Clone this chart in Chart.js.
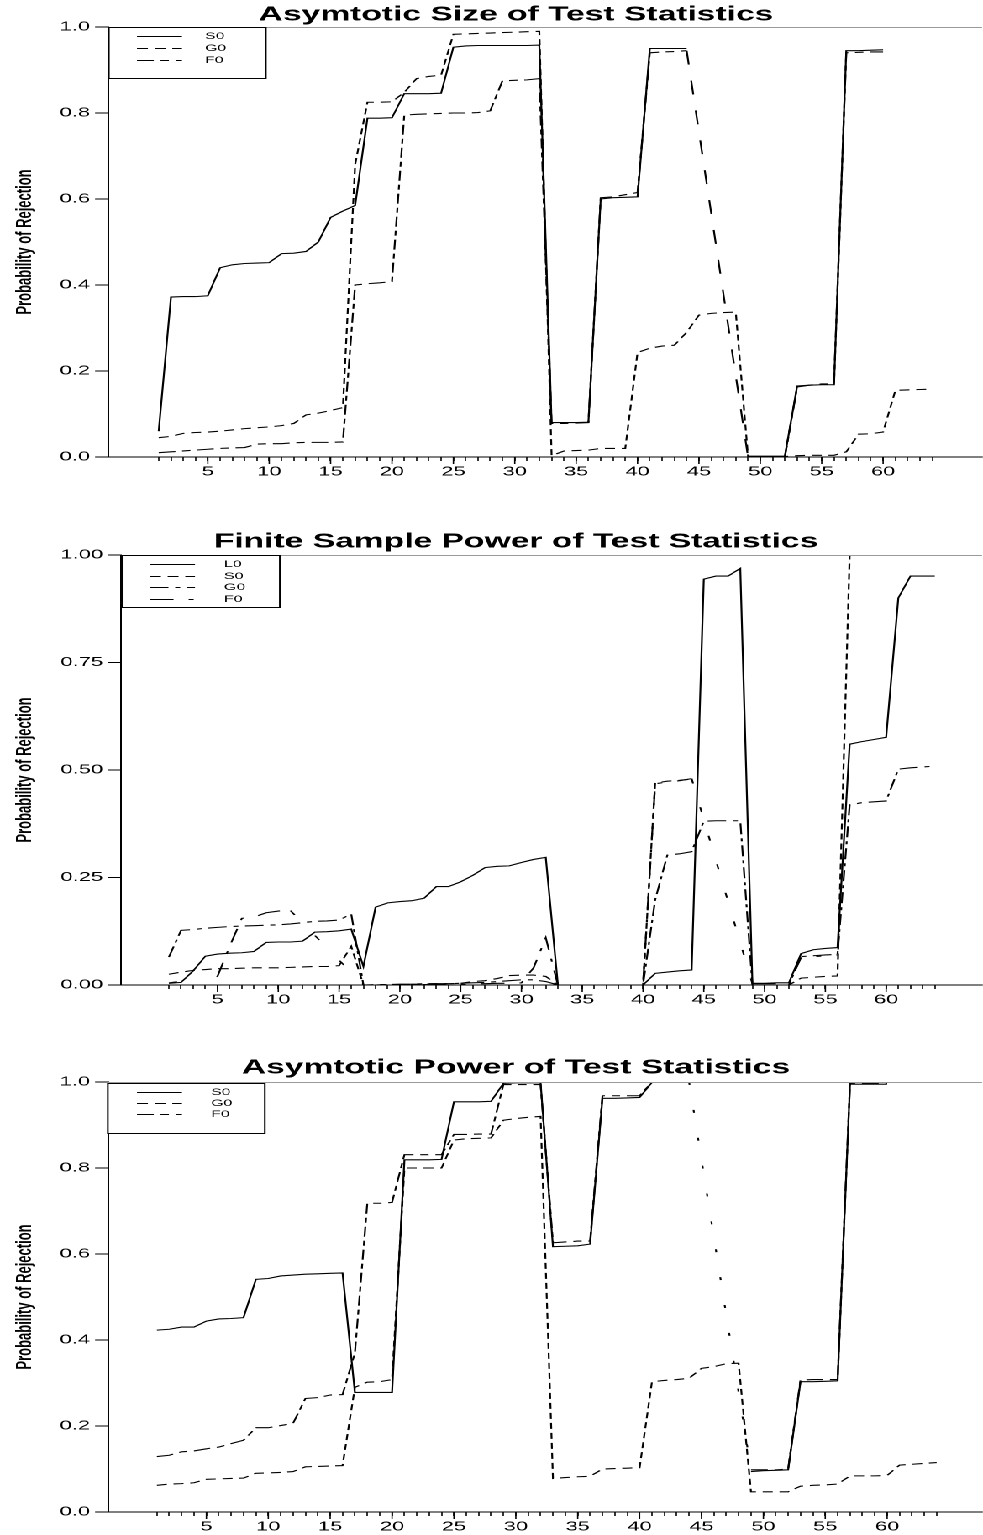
<!DOCTYPE html>
<html><head><meta charset="utf-8">
<script src="https://cdn.jsdelivr.net/npm/chart.js@4.4.1/dist/chart.umd.min.js"></script>
<style>
html,body{margin:0;padding:0;background:#fff;overflow:hidden;}
#wrap{width:585px;height:1535px;transform:scaleX(1.680342);transform-origin:0 0;}
.panel{position:relative;width:585px;}
</style></head><body>
<div id="wrap">
<div class="panel" style="height:528px"><canvas id="c1"></canvas></div>
<div class="panel" style="height:527px"><canvas id="c2"></canvas></div>
<div class="panel" style="height:480px"><canvas id="c3"></canvas></div>
</div>
<script>
const xCategories = [1,2,3,4,5,6,7,8,9,10,11,12,13,14,15,16,17,18,19,20,21,22,23,24,25,26,27,28,29,30,31,32,
  33,34,35,36,37,38,39,40,41,42,43,44,45,46,47,48,49,50,51,52,53,54,55,56,57,58,59,60,61,62,63,64];
const xTickLabels = [5,10,15,20,25,30,35,40,45,50,55,60];
const yTicksTenths = [0,0.2,0.4,0.6,0.8,1.0];
const yTicksQuarters = [0,0.25,0.5,0.75,1.0];
const titles = ["Asymtotic Size of Test Statistics","Finite Sample Power of Test Statistics","Asymtotic Power of Test Statistics"];
const yAxisTitle = "Probability of Rejection";

// Panel 1: Asymtotic Size
const sizeS0 = [0.06,0.372,0.373,0.373,0.375,0.44,0.447,0.45,0.451,0.452,
 0.473,0.474,0.478,0.5,0.557,0.572,0.585,0.788,0.788,0.789,
 0.845,0.845,0.845,0.846,0.953,0.956,0.957,0.957,0.957,0.957,
 0.957,0.958,0.08,0.08,0.08,0.081,0.6,0.603,0.604,0.605,
 0.95,0.95,0.95,0.95,null,null,null,null,0.002,0.002,
 0.002,0.002,0.165,0.167,0.168,0.168,0.945,0.945,0.946,0.947,
 null,null,null,null];
const sizeG0 = [0.045,0.048,0.055,0.057,0.058,0.06,0.063,0.066,0.068,0.07,
 0.073,0.078,0.098,0.102,0.108,0.115,0.68,0.825,0.825,0.826,
 0.848,0.88,0.885,0.888,0.983,0.984,0.985,0.986,0.987,0.988,
 0.989,0.99,0.003,0.014,0.015,0.016,0.02,0.02,0.02,0.243,
 0.253,0.258,0.26,0.29,0.33,0.334,0.336,0.337,0.001,0.001,
 0.001,0.001,0.003,0.004,0.004,0.004,0.012,0.053,0.054,0.058,
 0.155,0.156,0.157,0.158];
const sizeF0 = [0.01,0.012,0.014,0.016,0.018,0.02,0.021,0.022,0.03,0.031,
 0.031,0.033,0.034,0.034,0.034,0.035,0.4,0.403,0.405,0.408,
 0.795,0.797,0.798,0.799,0.8,0.8,0.801,0.805,0.875,0.876,
 0.877,0.88,0.078,0.078,0.079,0.08,0.603,0.605,0.61,0.615,
 0.94,0.942,0.943,0.945,null,null,null,null,0.0,0.0,
 0.0,0.0,0.163,0.167,0.17,0.17,0.94,0.941,0.942,0.942,
 null,null,null,null];

// Panel 2: Finite Sample Power
const finL0 = [0.004,0.006,0.033,0.067,0.072,0.074,0.075,0.078,0.099,0.1,
 0.1,0.102,0.123,0.124,0.126,0.13,0.043,0.181,0.191,0.194,
 0.196,0.202,0.229,0.229,0.24,0.255,0.273,0.276,0.277,0.285,
 0.292,0.297,0.0,0.0,0.0,0.0,0.0,0.0,0.0,0.0,
 0.027,0.03,0.033,0.035,0.944,0.951,0.951,0.969,0.004,0.004,
 0.005,0.005,0.073,0.082,0.085,0.087,0.56,0.566,0.571,0.576,
 0.9,0.951,0.951,0.951];
const finS0 = [0.025,0.03,0.034,0.036,0.038,0.038,0.039,0.04,0.04,0.04,
 0.041,0.042,0.043,0.043,0.045,0.09,0.0,0.0,0.001,0.001,
 0.002,0.002,0.003,0.003,0.004,0.008,0.01,0.015,0.022,0.023,
 0.023,0.02,0.0,0.0,0.0,0.0,0.0,0.0,0.0,0.0,
 0.47,0.474,0.476,0.479,null,null,null,null,0.0,0.0,
 0.0,0.0,0.016,0.018,0.02,0.021,1.0,null,null,null,
 null,null,null,null];
const finG0 = [0.065,0.127,0.129,0.132,0.134,0.136,0.137,0.138,0.139,0.14,
 0.142,0.145,0.148,0.149,0.151,0.165,0.0,0.001,0.001,0.002,
 0.002,0.003,0.003,0.003,0.004,0.005,0.006,0.008,0.01,0.012,
 0.012,0.008,0.0,0.0,0.0,0.0,0.0,0.0,0.0,0.0,
 0.198,0.302,0.305,0.31,0.381,0.382,0.382,0.382,0.0,0.0,
 0.0,0.0,0.066,0.068,0.07,0.071,0.419,0.424,0.426,0.428,
 0.502,0.505,0.507,0.509];
const finF0 = [0.005,null,null,null,0.02,0.09,0.155,0.158,0.168,0.172,
 0.173,null,null,null,null,null,0.0,0.0,0.0,0.0,
 0.001,0.001,0.001,0.002,0.002,0.003,0.003,0.004,0.004,0.005,
 0.04,0.11,0.0,0.0,0.0,0.0,0.0,0.0,0.0,0.0,
 0.468,0.472,0.475,0.48,null,null,null,null,0.003,0.003,
 0.003,0.003,0.064,0.066,0.068,0.07,null,null,null,null,
 null,null,null,null];

// Panel 3: Asymtotic Power
const powS0 = [0.423,0.425,0.43,0.43,0.444,0.449,0.45,0.452,0.541,0.543,
 0.549,0.551,0.553,0.554,0.555,0.556,0.278,0.278,0.278,0.278,
 0.819,0.819,0.819,0.82,0.954,0.954,0.954,0.955,0.997,0.998,
 0.998,0.998,0.617,0.618,0.619,0.623,0.962,0.962,0.963,0.964,
 0.999,0.999,0.999,0.999,null,null,null,null,0.094,0.096,
 0.097,0.098,0.303,0.303,0.304,0.305,0.995,0.995,0.995,0.995,
 null,null,null,null];
const powG0 = [0.062,0.065,0.066,0.068,0.076,0.077,0.078,0.079,0.09,0.091,
 0.092,0.094,0.105,0.106,0.107,0.108,0.29,0.302,0.303,0.308,
 0.8,0.8,0.8,0.8,0.865,0.868,0.869,0.87,0.911,0.915,
 0.918,0.92,0.078,0.08,0.082,0.083,0.1,0.101,0.102,0.103,
 0.303,0.306,0.308,0.311,0.334,0.338,0.345,0.346,0.047,0.047,
 0.047,0.047,0.06,0.062,0.063,0.065,0.084,0.084,0.084,0.085,
 0.109,0.111,0.113,0.115];
const powF0 = [0.129,0.132,0.14,0.142,0.147,0.151,0.159,0.167,0.196,0.196,
 0.201,0.206,0.264,0.266,0.272,0.273,0.37,0.718,0.718,0.72,
 0.831,0.831,0.831,0.831,0.878,0.878,0.879,0.879,0.994,0.994,
 0.994,0.994,0.626,0.628,0.63,0.63,0.968,0.968,0.968,0.968,
 1.0,1.0,1.0,1.0,null,null,null,null,0.098,0.098,
 0.098,0.1,0.307,0.308,0.308,0.308,0.997,0.997,0.997,0.997,
 null,null,null,null];

const S = 983/585;
const FONT = '"Liberation Sans", Arial, Helvetica, sans-serif';

const decor = {
  id: 'decor',
  afterDraw(chart, args, o) {
    const {ctx, chartArea: ca, scales} = chart;
    const xs = scales.x;
    ctx.save();
    ctx.strokeStyle = '#9a9a9a'; ctx.lineWidth = 1; ctx.setLineDash([]);
    ctx.beginPath(); ctx.moveTo(ca.left, ca.top + 0.5); ctx.lineTo(ca.right, ca.top + 0.5); ctx.stroke();
    ctx.strokeStyle = '#000'; ctx.lineWidth = 0.8;
    xTickLabels.forEach(v => {
      const px = xs.getPixelForValue(v);
      ctx.beginPath(); ctx.moveTo(px, ca.bottom); ctx.lineTo(px, ca.bottom + 7); ctx.stroke();
    });
    ctx.fillStyle = '#000';
    ctx.font = 'bold 20px ' + FONT;
    ctx.textAlign = 'center'; ctx.textBaseline = 'middle';
    ctx.fillText(o.title, o.titleX / S, o.titleY);
    const L = o.legend;
    ctx.fillStyle = '#fff';
    ctx.fillRect(L.x / S, L.y, (L.x2b - L.x) / S, L.h);
    ctx.strokeStyle = '#000'; ctx.lineWidth = 1;
    ctx.strokeRect(L.x / S + 0.5, L.y + 0.5, (L.x2b - L.x) / S, L.h);
    ctx.font = '9.5px ' + FONT;
    ctx.textAlign = 'left'; ctx.textBaseline = 'middle';
    chart.data.datasets.forEach((ds, i) => {
      const y = L.rows[i] + 0.5;
      ctx.strokeStyle = '#000'; ctx.lineWidth = 1;
      ctx.setLineDash(ds.legendDash || []);
      ctx.beginPath(); ctx.moveTo(L.lx1 / S, y); ctx.lineTo(L.lx2 / S, y); ctx.stroke();
      ctx.setLineDash([]);
      ctx.fillStyle = '#000';
      ctx.fillText(ds.label, L.tx / S, y);
    });
    ctx.restore();
  }
};

function build(id, p) {
  const datasets = p.series.map(s => ({
    label: s.label,
    data: xCategories.map((x, i) => ({x: x, y: s.values[i]})),
    borderColor: '#000', borderWidth: 1.1, borderDash: s.dash, legendDash: s.legendDash,
    pointRadius: 0, pointHoverRadius: 0, tension: 0, fill: false,
    spanGaps: !!s.span,
    segment: s.span ? { borderDash: ctx => (ctx.p0.skip || ctx.p1.skip) ? s.span : undefined } : {}
  }));
  return new Chart(document.getElementById(id), {
    type: 'line',
    data: { datasets },
    plugins: [decor],
    options: {
      responsive: true, maintainAspectRatio: false, animation: false, devicePixelRatio: 2,
      layout: { padding: { top: 27, left: 0, right: 0, bottom: 0 } },
      events: [],
      plugins: {
        legend: { display: false }, tooltip: { enabled: false }, title: { display: false },
        decor: { title: p.title, titleX: 516, titleY: p.titleY, legend: p.legend }
      },
      scales: {
        x: {
          type: 'linear', min: p.xmin, max: p.xmax,
          afterBuildTicks: sc => { sc.ticks = xCategories.map(v => ({value: v})); },
          afterFit: sc => { sc.height = p.height - 457; },
          ticks: { autoSkip: false, maxRotation: 0, minRotation: 0, padding: 3, color: '#000',
                   font: { family: FONT, size: 13 },
                   callback: v => xTickLabels.includes(v) ? String(v) : '' },
          grid: { drawOnChartArea: false, drawTicks: true, tickLength: 4, color: '#000', lineWidth: 0.8 },
          border: { display: true, color: '#000', width: 1 }
        },
        y: {
          type: 'linear', min: 0, max: 1,
          afterBuildTicks: sc => { sc.ticks = p.yTicks.map(v => ({value: v})); },
          afterFit: sc => { sc.width = p.axisX / S; },
          ticks: { padding: 3, color: '#000', font: { family: FONT, size: 13 },
                   callback: v => Number(v).toFixed(p.dec) },
          grid: { drawOnChartArea: false, drawTicks: true, tickLength: 7.7, color: '#000', lineWidth: 1 },
          border: { display: true, color: '#000', width: 1 },
          title: { display: true, text: yAxisTitle, color: '#000',
                   font: { family: FONT, size: 13, weight: 'bold' }, padding: { top: 7, bottom: 0 } }
        }
      }
    }
  });
}

build('c1', {
  title: titles[0], titleY: 15, height: 528, axisX: 108, xmin: -3.13, xmax: 68.06,
  yTicks: yTicksTenths, dec: 1,
  legend: { x: 108, x2b: 265, y: 27, h: 51, lx1: 137, lx2: 182, tx: 205, rows: [36, 48, 60] },
  series: [
    { label: 'S0', values: sizeS0, dash: [], legendDash: [] },
    { label: 'G0', values: sizeG0, dash: [6, 4], legendDash: [6.5, 4] },
    { label: 'F0', values: sizeF0, dash: [10, 4, 5, 4], legendDash: [10, 4, 5, 4], span: [14, 16] }
  ]
});
build('c2', {
  title: titles[1], titleY: 14, height: 527, axisX: 121, xmin: -2.94, xmax: 67.89,
  yTicks: yTicksQuarters, dec: 2,
  legend: { x: 121, x2b: 279, y: 27, h: 52, lx1: 150, lx2: 195, tx: 224, rows: [36, 48, 59, 71] },
  series: [
    { label: 'L0', values: finL0, dash: [], legendDash: [] },
    { label: 'S0', values: finS0, dash: [6, 4], legendDash: [6.5, 4] },
    { label: 'G0', values: finG0, dash: [11, 4, 3, 4], legendDash: [11, 4, 3, 4] },
    { label: 'F0', values: finF0, dash: [14, 9, 3, 9], legendDash: [14, 9, 3, 9], span: [5, 24] }
  ]
});
build('c3', {
  title: titles[2], titleY: 13, height: 480, axisX: 108, xmin: -2.95, xmax: 67.67,
  yTicks: yTicksTenths, dec: 1,
  legend: { x: 107, x2b: 264, y: 28, h: 50, lx1: 137, lx2: 182, tx: 211, rows: [37, 48, 59] },
  series: [
    { label: 'S0', values: powS0, dash: [], legendDash: [] },
    { label: 'G0', values: powG0, dash: [6, 4], legendDash: [6.5, 4] },
    { label: 'F0', values: powF0, dash: [10, 4, 5, 4], legendDash: [10, 4, 5, 4], span: [3, 25] }
  ]
});
</script>
</body></html>
